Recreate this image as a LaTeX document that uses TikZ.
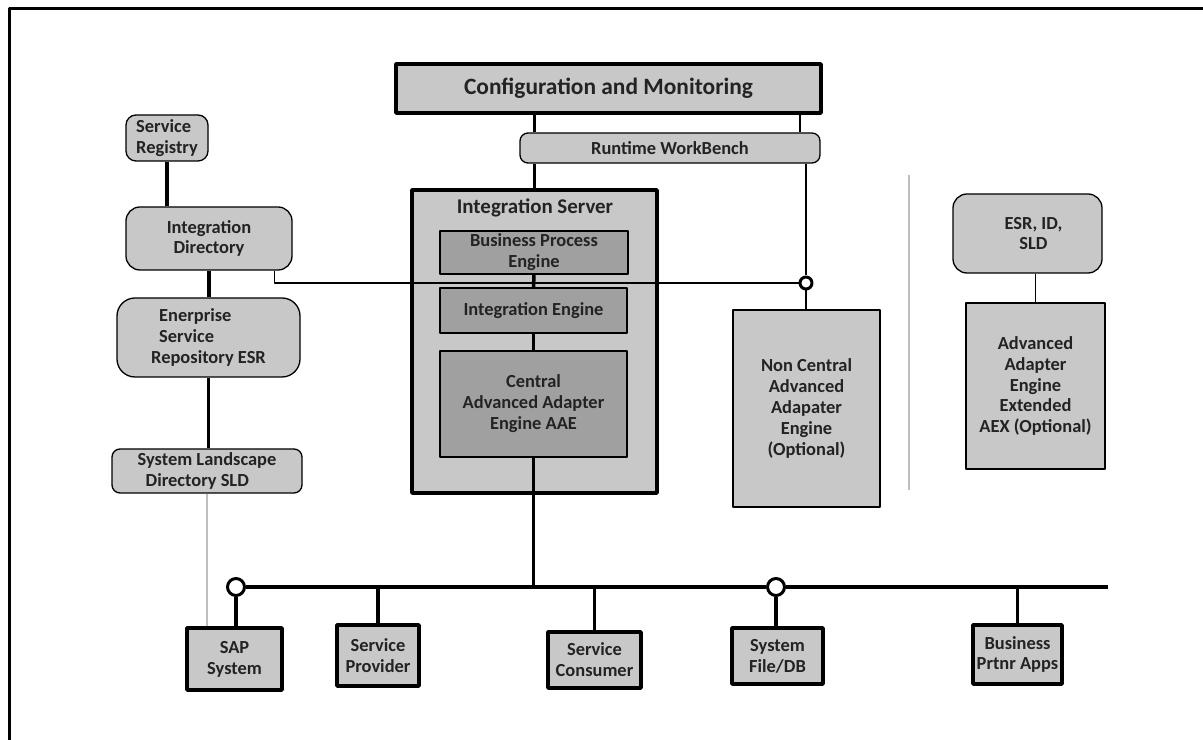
\documentclass[tikz,border=0pt]{standalone}
\usepackage[x11names, svgnames, rgb]{xcolor}
\usepackage{fontspec}
\setmainfont{Carlito}
\usepackage{tikz}
\usetikzlibrary{shapes}
\definecolor{lightbox}{RGB}{200,200,200}
\definecolor{darkbox}{RGB}{160,160,160}
\definecolor{inktext}{RGB}{35,35,35}
\definecolor{rulegray}{RGB}{190,190,190}

\begin{document}
\begin{tikzpicture}[line join=bevel,
  every node/.style={text=inktext,font=\fontsize{18.5}{21}\selectfont\bfseries,inner sep=0pt,align=center},
  heavybox/.style={draw,line width=3.5bp,fill=lightbox},
  softbox/.style={draw,line width=1.3bp,fill=lightbox,rounded corners=14bp},
  tapebox/.style={draw,line width=1.3bp,fill=lightbox,rounded corners=8bp},
  plainbox/.style={draw,line width=1.3bp,fill=lightbox},
  engine/.style={draw,line width=1.3bp,fill=darkbox},
  wire/.style={line width=3.5bp},
  thinwire/.style={line width=1.3bp},
  joint/.style={circle,draw,fill=white,line width=3bp}]
\pgfsetlinewidth{1.3bp}
\useasboundingbox (0bp,0bp) rectangle (1203bp,740bp);
\draw [line width=3bp] (9bp,0bp) -- (9bp,731bp) -- (1203bp,731bp);
%% top
\node (cfg) at (608.5bp,651.5bp) [heavybox, minimum width=425bp, minimum height=49bp, font=\fontsize{23.5}{26}\selectfont\bfseries] {Configuration and Monitoring};
\node (rwb) at (670.0bp,592.0bp) [tapebox, minimum width=300bp, minimum height=30bp] {Runtime WorkBench};
%% integration server
\node (is) at (534.5bp,398.5bp) [heavybox, minimum width=245bp, minimum height=303bp] {};
\node (istitle) at (535.0bp,532.0bp) [font=\fontsize{21}{24}\selectfont\bfseries] {Integration Server};
\node (bpe) at (534.0bp,487.5bp) [engine, minimum width=188bp, minimum height=43bp] {Business Process\\Engine};
\node (ie) at (533.5bp,429.5bp) [engine, minimum width=187bp, minimum height=45bp] {Integration Engine};
\node (caae) at (533.5bp,336.0bp) [engine, minimum width=187bp, minimum height=106bp] {Central\\Advanced Adapter\\Engine AAE};
\node (nca) at (806.5bp,331.5bp) [plainbox, minimum width=147bp, minimum height=197bp] {Non Central\\Advanced\\Adapater\\Engine\\(Optional)};
%% left column
\node (sr) at (167.0bp,602.0bp) [softbox, rounded corners=10bp, minimum width=82bp, minimum height=46bp, align=left] {Service\\Registry};
\node (id) at (209.0bp,501.5bp) [softbox, minimum width=166bp, minimum height=63bp] {Integration\\Directory};
\node (esr) at (208.5bp,402.5bp) [softbox, rounded corners=18bp, minimum width=183bp, minimum height=79bp, align=left] {\hspace*{8bp}Enerprise\\\hspace*{8bp}Service\\Repository ESR};
\node (sld) at (207.0bp,269.0bp) [tapebox, minimum width=190bp, minimum height=44bp, align=left] {System Landscape\\\hspace*{8bp}Directory SLD};
%% right part
\node (esrid) at (1027.5bp,506.5bp) [softbox, minimum width=149bp, minimum height=79bp] {\hspace*{12bp}ESR, ID,\\\hspace*{12bp}SLD};
\node (aex) at (1035.5bp,354.0bp) [plainbox, minimum width=139bp, minimum height=166bp] {Advanced\\Adapter\\Engine\\Extended\\AEX (Optional)};
\draw [rulegray, line width=1.5bp] (909bp,565bp) -- (909bp,250bp);
%% systems on the bus
\node (sap) at (234.5bp,81.0bp) [heavybox, minimum width=95bp, minimum height=62bp] {SAP\\System};
\node (sprov) at (378.0bp,84.5bp) [heavybox, minimum width=82bp, minimum height=61bp] {Service\\Provider};
\node (scons) at (594.5bp,80.0bp) [heavybox, minimum width=93bp, minimum height=56bp] {Service\\Consumer};
\node (sfile) at (777.5bp,84.0bp) [heavybox, minimum width=91bp, minimum height=56bp] {System\\File/DB};
\node (bpa) at (1017.5bp,85.5bp) [heavybox, minimum width=89bp, minimum height=59bp] {Business\\Prtnr Apps};
\node (sapC) at (236.0bp,153.0bp) [joint, minimum size=17bp] {};
\node (fileC) at (776.0bp,153.0bp) [joint, minimum size=17bp] {};
\node (ncaC) at (806.0bp,457.0bp) [joint, line width=3bp, minimum size=12bp] {};
\coordinate (busR) at (1108bp,153bp);
\coordinate (cfgR) at (800bp,0bp);
%% connectors
\draw [wire] (cfg.south -| is.north) -- (rwb.north -| is.north);
\draw [wire] (rwb.south -| is.north) -- (is.north);
\draw [thinwire] (cfg.south -| cfgR) -- (rwb.north -| cfgR);
\draw [thinwire] (rwb.south -| ncaC) -- (ncaC.north);
\draw [thinwire] (ncaC.south) -- (nca.north -| ncaC);
\draw [thinwire] ([xshift=-18bp]id.south east) |- (ncaC.west);
\draw [wire] (bpe.south) -- (ie.north);
\draw [wire] (ie.south) -- (caae.north);
\draw [wire] (caae.south) -- (caae.south |- busR);
\draw [wire] (sr.south) -- (sr.south |- id.north);
\draw [wire] (id.south) -- (id.south |- esr.north);
\draw [wire] (esr.south) -- (esr.south |- sld.north);
\draw [rulegray, thinwire] (sld.south) -- (sld.south |- sap.north);
\draw [thinwire] (aex.north) -- (aex.north |- esrid.south);
\draw [wire] (sapC.east) -- (fileC.west);
\draw [wire] (fileC.east) -- (busR);
\draw [wire] (sap.north -| sapC) -- (sapC.south);
\draw [wire] (sprov.north) -- (sprov.north |- busR);
\draw [wire] (scons.north) -- (scons.north |- busR);
\draw [wire] (sfile.north -| fileC) -- (fileC.south);
\draw [wire] (bpa.north) -- (bpa.north |- busR);
%
\end{tikzpicture}
\end{document}
